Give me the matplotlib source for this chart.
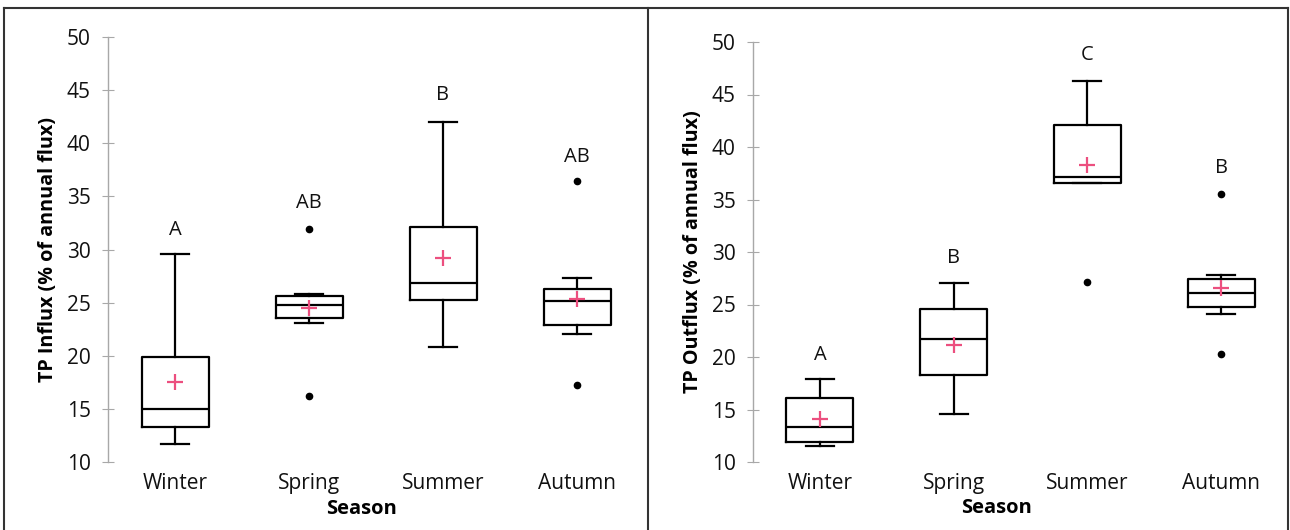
import matplotlib
matplotlib.use("Agg")
import matplotlib.pyplot as plt
import matplotlib.lines as lines

plt.rcParams['font.family'] = ['Open Sans', 'DejaVu Sans']

seasons = ['Winter', 'Spring', 'Summer', 'Autumn']

# TP influx (% of annual flux)
influx_whislo = [11.7, 23.05, 20.85, 22.05]
influx_q1 = [13.33, 23.52, 25.25, 22.86]
influx_med = [14.99, 24.78, 26.88, 25.18]
influx_q3 = [19.91, 25.62, 32.15, 26.31]
influx_whishi = [29.58, 25.8, 42.03, 27.35]
influx_mean = [17.56, 24.46, 29.17, 25.31]
influx_fliers = [[], [31.9, 16.21], [], [36.45, 17.22]]
influx_letters = ['A', 'AB', 'B', 'AB']
influx_letter_y = [31.8, 34.35, 44.5, 38.73]

# TP outflux (% of annual flux)
outflux_whislo = [11.52, 14.57, 36.54, 24.1]
outflux_q1 = [11.87, 18.29, 36.54, 24.73]
outflux_med = [13.36, 21.68, 37.17, 26.13]
outflux_q3 = [16.12, 24.54, 42.1, 27.4]
outflux_whishi = [17.88, 27.02, 46.32, 27.81]
outflux_mean = [14.1, 21.14, 38.29, 26.54]
outflux_fliers = [[], [], [27.17], [35.52, 20.29]]
outflux_letters = ['A', 'B', 'C', 'B']
outflux_letter_y = [20.19, 29.4, 48.76, 37.97]


def make_stats(whislo, q1, med, q3, whishi, mean, fliers):
    stats = []
    for i in range(len(seasons)):
        stats.append({'whislo': whislo[i], 'q1': q1[i], 'med': med[i], 'q3': q3[i],
                      'whishi': whishi[i], 'mean': mean[i], 'fliers': fliers[i],
                      'label': seasons[i]})
    return stats


def draw_panel(ax, stats, letters, letter_y, ylabel, season_x):
    k = dict(color='black', linewidth=1.6)
    ax.bxp(stats, positions=range(1, 5), widths=0.5, capwidths=0.21,
           showmeans=True, patch_artist=False,
           boxprops=k, whiskerprops=k, capprops=k,
           medianprops=dict(color='black', linewidth=1.6),
           meanprops=dict(marker='+', markeredgecolor='#ec4f7f', markersize=12,
                          markeredgewidth=1.6),
           flierprops=dict(marker='o', markerfacecolor='black', markeredgecolor='black',
                           markersize=4.5))
    for i, (t, y) in enumerate(zip(letters, letter_y)):
        ax.text(i + 1, y, t, ha='center', va='center', fontsize=14.5, color='#111111')
    ax.set_xlim(0.5, 4.5)
    ax.set_ylim(10, 50)
    ax.set_yticks(range(10, 51, 5))
    ax.set_xticks(range(1, 5))
    ax.set_xticklabels(seasons, fontsize=15, color='#111111')
    for s in ['top', 'right', 'bottom']:
        ax.spines[s].set_visible(False)
    ax.spines['left'].set_color('#a8a8a8')
    ax.spines['left'].set_linewidth(1)
    ax.tick_params(axis='y', direction='inout', length=9, color='#a8a8a8',
                   labelsize=15, labelcolor='#111111', pad=8)
    ax.tick_params(axis='x', length=0, pad=8)
    ax.set_ylabel(ylabel, fontsize=14.2, fontweight='bold', labelpad=6)
    ax.text(season_x, -0.11, 'Season', transform=ax.transAxes, ha='center', va='center',
            fontsize=14.5, fontweight='bold')


fig = plt.figure(figsize=(12.9, 5.3), dpi=100)
ax1 = fig.add_axes([108 / 1290, 68 / 530, 536 / 1290, 425 / 530])
ax2 = fig.add_axes([753 / 1290, 68 / 530, 535 / 1290, 420 / 530])

draw_panel(ax1, make_stats(influx_whislo, influx_q1, influx_med, influx_q3, influx_whishi,
                           influx_mean, influx_fliers),
           influx_letters, influx_letter_y, 'TP Influx (% of annual flux)', 0.473)
draw_panel(ax2, make_stats(outflux_whislo, outflux_q1, outflux_med, outflux_q3,
                           outflux_whishi, outflux_mean, outflux_fliers),
           outflux_letters, outflux_letter_y, 'TP Outflux (% of annual flux)', 0.455)

# panel frames
fc = '#333333'
fig.add_artist(lines.Line2D([4 / 1290, 1288 / 1290], [1 - 8 / 530, 1 - 8 / 530], color=fc, lw=1.5))
fig.add_artist(lines.Line2D([4 / 1290, 4 / 1290], [0, 1 - 8 / 530], color=fc, lw=1.5))
fig.add_artist(lines.Line2D([648 / 1290, 648 / 1290], [0, 1 - 8 / 530], color=fc, lw=1.5))
fig.add_artist(lines.Line2D([1288 / 1290, 1288 / 1290], [0, 1 - 8 / 530], color=fc, lw=1.5))

fig.savefig('out.png', dpi=100)
